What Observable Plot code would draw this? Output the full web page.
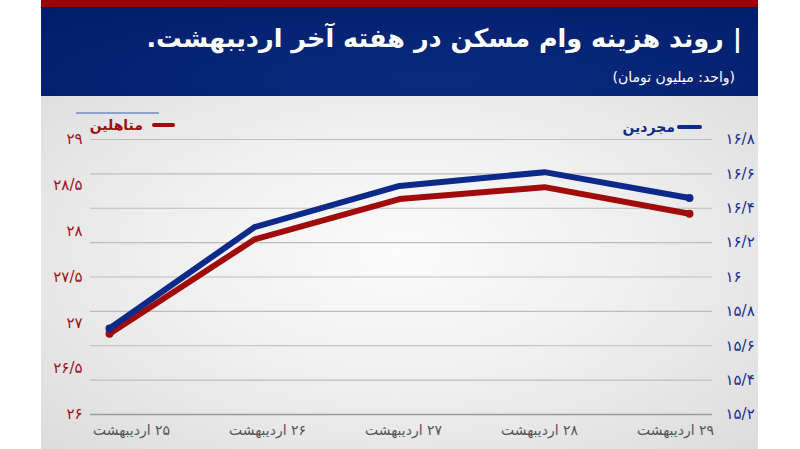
<!DOCTYPE html>
<html><head><meta charset="utf-8">
<script src="https://cdn.jsdelivr.net/npm/d3@7"></script>
<script src="https://cdn.jsdelivr.net/npm/@observablehq/plot@0.6"></script>
<style>
html,body{margin:0;padding:0;background:#fff;}
#wrap{position:relative;width:800px;height:449px;overflow:hidden;background:#fff;font-family:"DejaVu Sans",sans-serif;}
#panel{position:absolute;left:41px;top:0;width:717px;height:449px;}
#redstrip{position:absolute;left:0;top:0;width:717px;height:7px;background:#9c0000;}
#header{position:absolute;left:0;top:7px;width:717px;height:89px;background:radial-gradient(ellipse at 55% 80%,#0b2a80 0%,#062474 45%,#001d69 100%);}
#chartbg{position:absolute;left:0;top:96px;width:717px;height:353px;background:radial-gradient(ellipse at 50% 45%,#fbfbfb 0%,#f0f0f0 45%,#dcdcdc 100%);}
#title{position:absolute;right:16px;top:18px;color:#fff;font-weight:bold;font-size:25.5px;direction:rtl;white-space:nowrap;line-height:40px;}
#subtitle{position:absolute;right:23px;top:67px;color:#fff;font-size:14px;direction:rtl;white-space:nowrap;line-height:20px;}
.plot{position:absolute;left:0;top:96px;}
.leg{position:absolute;font-size:14px;font-weight:bold;direction:rtl;white-space:nowrap;line-height:18px;}
.dash{position:absolute;height:4px;border-radius:2px;}
</style></head>
<body><div id="wrap">
<div id="panel"><div id="redstrip"></div><div id="header">
</div><div id="chartbg"></div>
<div id="title">| روند هزینه وام مسکن در هفته آخر اردیبهشت.</div>
<div id="subtitle">(واحد: میلیون تومان)</div>
</div>
<div id="plot" class="plot"></div>
<div id="xlabels" class="plot"></div>
<div style="position:absolute;left:76px;top:112px;width:83px;height:1.5px;background:#8ea3cc;"></div>
<div class="leg" style="right:657px;top:116px;color:#a00c0c;">متاهلین</div>
<div class="dash" style="left:152px;top:123px;width:23px;background:#a00c0c;"></div>
<div class="leg" style="right:125px;top:118px;color:#0d2a8a;">مجردین</div>
<div class="dash" style="left:677px;top:125px;width:25px;background:#0d2a8a;"></div>
</div>
<script>
const days = ["۲۵ اردیبهشت","۲۶ اردیبهشت","۲۷ اردیبهشت","۲۸ اردیبهشت","۲۹ اردیبهشت"];
const single = [15.70, 16.29, 16.53, 16.61, 16.46];   // مجردین (right axis)
const married = [26.88, 27.91, 28.35, 28.48, 28.19];  // متاهلین (left axis)
const rightTicks = [15.2,15.4,15.6,15.8,16,16.2,16.4,16.6,16.8];
const leftTicks = [26,26.5,27,27.5,28,28.5,29];

const rDom=[15.2,16.8], lDom=[26,29];
const toRight = v => rDom[0] + (v - lDom[0]) * (rDom[1]-rDom[0])/(lDom[1]-lDom[0]);
const fromRight = v => lDom[0] + (v - rDom[0])*(lDom[1]-lDom[0])/(rDom[1]-rDom[0]);
const fa = n => {
  const s = String(+n.toFixed(2)).replace(".", "/");
  return s.replace(/[0-9]/g, d => "۰۱۲۳۴۵۶۷۸۹"[d]);
};

const sData = days.map((d,i)=>({day:d, v:single[i]}));
const mData = days.map((d,i)=>({day:d, v:toRight(married[i])}));
const ends = a => [a[0], a[a.length-1]];

const chart = Plot.plot({
  width: 800, height: 353,
  marginLeft: 107, marginRight: 110, marginTop: 43, marginBottom: 35,
  style: {background:"transparent", fontFamily:"DejaVu Sans, sans-serif"},
  x: {type:"point", domain: days, padding: 0, axis: null, label: null},
  y: {domain: rDom, axis: null, label: null},
  marks: [
    Plot.ruleY(rightTicks.slice(1), {stroke:"#bdbdbd", strokeWidth:1.2, insetLeft:-17, insetRight:-22}),
    Plot.ruleY([rightTicks[0]], {stroke:"#9a9a9a", strokeWidth:1.6, insetLeft:-17, insetRight:-22}),
    Plot.axisY(rightTicks, {anchor:"right", label:null, tickSize:0, tickPadding:35, tickFormat: fa, fill:"#1b2c8f", fontSize:15, textAnchor:"start"}),
    Plot.axisY(leftTicks.map(toRight), {anchor:"left", label:null, tickSize:0, tickPadding:25, tickFormat: d => fa(fromRight(d)), fill:"#a01010", fontSize:15}),
    Plot.line(mData, {x:"day", y:"v", stroke:"#a00c0c", strokeWidth:6, strokeLinecap:"round", strokeLinejoin:"round"}),
    Plot.dot(ends(mData), {x:"day", y:"v", r:4, fill:"#a00c0c"}),
    Plot.line(sData, {x:"day", y:"v", stroke:"#0d2a8a", strokeWidth:6, strokeLinecap:"round", strokeLinejoin:"round"}),
    Plot.dot(ends(sData), {x:"day", y:"v", r:4, fill:"#0d2a8a"})
  ]
});
document.getElementById("plot").appendChild(chart);

// category labels (Excel places them slightly offset from the points)
const labels = Plot.plot({
  width: 800, height: 353,
  marginLeft: 130, marginRight: 125, marginTop: 43, marginBottom: 35,
  style: {background:"transparent", fontFamily:"DejaVu Sans, sans-serif"},
  x: {type:"point", domain: days, padding: 0, label: null},
  y: {domain: rDom, axis: null},
  marks: [
    Plot.axisX(days, {anchor:"bottom", label:null, tickSize:0, tickPadding:11, fill:"#555", fontSize:14})
  ]
});
d3.select(labels).selectAll("text").attr("direction", "rtl").style("unicode-bidi", "embed");
document.getElementById("xlabels").appendChild(labels);
</script>
</body></html>
